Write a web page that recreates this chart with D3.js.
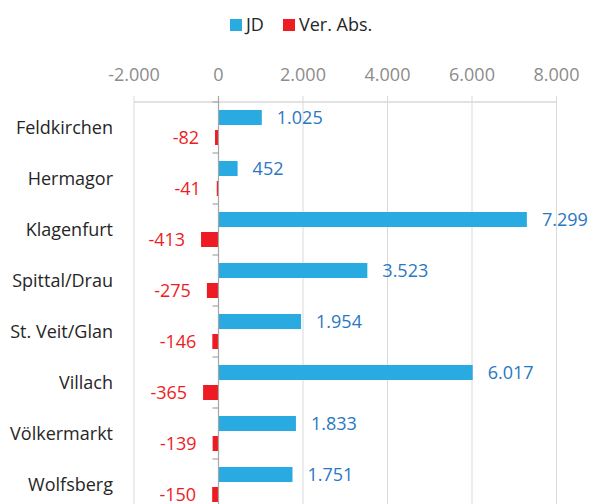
<!DOCTYPE html>
<html>
<head>
<meta charset="utf-8">
<script src="https://cdn.jsdelivr.net/npm/d3@7"></script>
<style>
  body { margin: 0; background: #fff; }
  svg { display: block; font-family: 'Open Sans', sans-serif; }
</style>
</head>
<body>
<svg id="chart" width="595" height="504"></svg>
<script>
const categories = ['Feldkirchen', 'Hermagor', 'Klagenfurt', 'Spittal/Drau', 'St. Veit/Glan', 'Villach', 'Völkermarkt', 'Wolfsberg'];
const jd = [1025, 452, 7299, 3523, 1954, 6017, 1833, 1751];
const verAbs = [-82, -41, -413, -275, -146, -365, -139, -150];
const tickValues = [-2000, 0, 2000, 4000, 6000, 8000];
const seriesNames = ['JD', 'Ver. Abs.'];

const blue = '#29abe2';
const blueText = '#2a78c2';
const red = '#ed1c24';
// german style: dot as thousands separator, plain hyphen for minus
const fmt = v => d3.format(',')(v).replace(/,/g, '.').replace('\u2212', '-');

const svg = d3.select('#chart');

const x = d3.scaleLinear()
  .domain([-2000, 8000])
  .range([134, 556.5]);
const y = d3.scaleBand()
  .domain(categories)
  .range([102, 102 + 51 * categories.length]);

const axisTop = 102;
const barH = 15;

// gridlines
svg.append('g')
  .selectAll('line')
  .data(tickValues.filter(d => d !== 0))
  .join('line')
  .attr('x1', d => x(d)).attr('x2', d => x(d))
  .attr('y1', axisTop - 6).attr('y2', 504)
  .attr('stroke', '#d9d9d9')
  .attr('stroke-width', 1);

// top axis line
svg.append('line')
  .attr('x1', x(-2000)).attr('x2', x(8000))
  .attr('y1', axisTop).attr('y2', axisTop)
  .attr('stroke', '#d9d9d9')
  .attr('stroke-width', 1.5);

// tick labels
svg.append('g')
  .selectAll('text')
  .data(tickValues)
  .join('text')
  .attr('x', d => x(d))
  .attr('y', 81)
  .attr('text-anchor', 'middle')
  .style('font-size', '18px')
  .style('fill', '#8c8c8c')
  .text(d => fmt(d));

// bars
svg.append('g')
  .selectAll('rect')
  .data(jd)
  .join('rect')
  .attr('x', x(0))
  .attr('y', (d, i) => y(categories[i]) + 8)
  .attr('width', d => x(d) - x(0))
  .attr('height', barH)
  .attr('fill', blue);

svg.append('g')
  .selectAll('rect')
  .data(verAbs)
  .join('rect')
  .attr('x', d => x(d))
  .attr('y', (d, i) => y(categories[i]) + 28)
  .attr('width', d => x(0) - x(d))
  .attr('height', barH)
  .attr('fill', red);

// category axis
svg.append('line')
  .attr('x1', x(0)).attr('x2', x(0))
  .attr('y1', axisTop - 6).attr('y2', 504)
  .attr('stroke', '#a6a6a6')
  .attr('stroke-width', 1.2);
svg.append('g')
  .selectAll('line')
  .data(categories)
  .join('line')
  .attr('x1', x(0) - 6).attr('x2', x(0))
  .attr('y1', d => y(d)).attr('y2', d => y(d))
  .attr('stroke', '#a6a6a6')
  .attr('stroke-width', 1.2);

svg.append('g')
  .selectAll('text')
  .data(categories)
  .join('text')
  .attr('x', 113)
  .attr('y', d => y(d) + y.bandwidth() / 2)
  .attr('dy', '0.35em')
  .attr('text-anchor', 'end')
  .style('font-size', '18px')
  .style('fill', '#262626')
  .text(d => d);

// value labels
svg.append('g')
  .selectAll('text')
  .data(jd)
  .join('text')
  .attr('x', d => x(d) + 15)
  .attr('y', (d, i) => y(categories[i]) + 8 + barH / 2)
  .attr('dy', '0.35em')
  .style('font-size', '18px')
  .style('fill', blueText)
  .text(d => fmt(d));

svg.append('g')
  .selectAll('text')
  .data(verAbs)
  .join('text')
  .attr('x', d => x(d) - 16)
  .attr('y', (d, i) => y(categories[i]) + 28 + barH / 2)
  .attr('dy', '0.35em')
  .attr('text-anchor', 'end')
  .style('font-size', '18px')
  .style('fill', red)
  .text(d => fmt(d));

// legend
const legend = svg.append('g')
  .selectAll('g')
  .data(seriesNames)
  .join('g')
  .attr('transform', (d, i) => `translate(${i === 0 ? 230 : 283}, 19)`);
legend.append('rect')
  .attr('width', 12).attr('height', 12)
  .attr('fill', (d, i) => i === 0 ? blue : red);
legend.append('text')
  .attr('x', 16)
  .attr('y', 6)
  .attr('dy', '0.35em')
  .style('font-size', '18px')
  .style('fill', '#262626')
  .text(d => d);
</script>
</body>
</html>
